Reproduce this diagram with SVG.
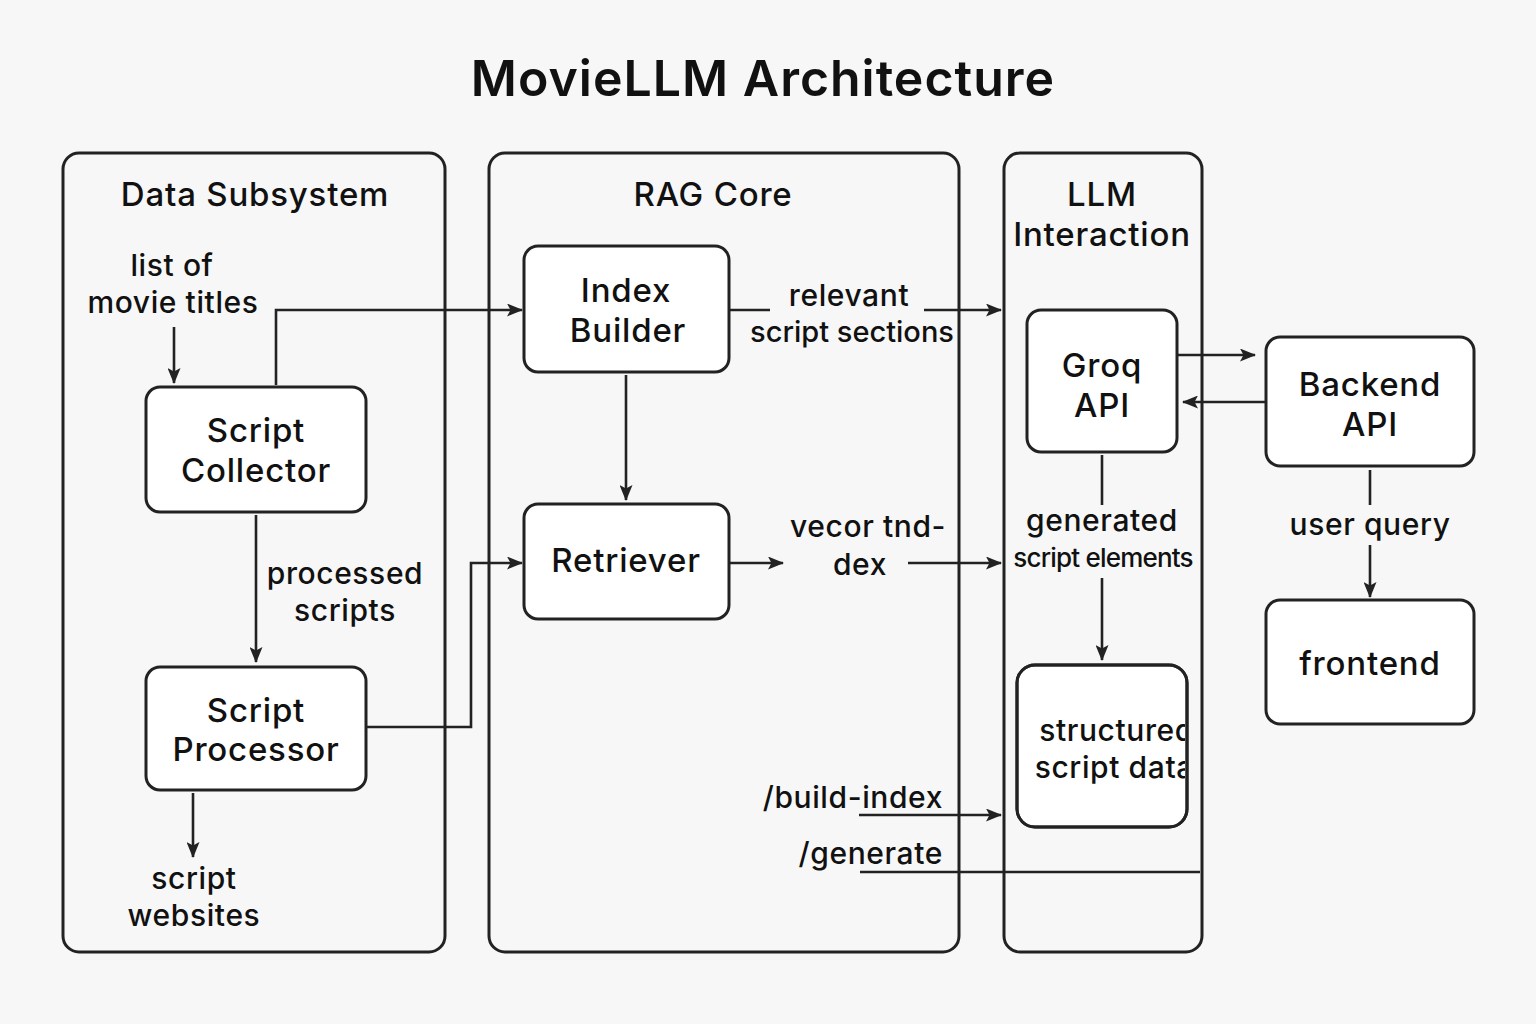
<svg xmlns="http://www.w3.org/2000/svg" width="1536" height="1024" viewBox="0 0 1536 1024">
<style>
.bg{fill:#f7f7f7}
.grp{fill:none;stroke:#222;stroke-width:3}
.node{fill:#fff;stroke:#222;stroke-width:3}
.ln{fill:none;stroke:#222;stroke-width:2.6}
text{font-family:Inter,"Open Sans","Noto Sans","Liberation Sans",sans-serif;fill:#111;text-anchor:middle}
.title{font-size:50px;font-weight:600;letter-spacing:1px}
.hdr{font-size:33px;font-weight:500;letter-spacing:0.8px}
.nt{font-size:33px;font-weight:500;letter-spacing:0.8px}
.lb{font-size:30px;font-weight:500;letter-spacing:0.6px}
.sm{font-size:26px;font-weight:500;letter-spacing:-0.8px}
</style>
<defs>
<marker id="ah" viewBox="0 0 16 13" refX="15" refY="6.5" markerWidth="16" markerHeight="13" markerUnits="userSpaceOnUse" orient="auto">
<path d="M0,0 L16,6.5 L0,13 L3.5,6.5 Z" fill="#222"/>
</marker>
<clipPath id="clipSD"><rect x="1017" y="665" width="168" height="162" rx="18"/></clipPath>
</defs>
<rect class="bg" x="0" y="0" width="1536" height="1024"/>
<text class="title" x="763" y="96">MovieLLM Architecture</text>

<g id="data-subsystem">
<rect class="grp" x="63" y="153" width="382" height="799" rx="16"/>
<text class="hdr" x="255" y="206">Data Subsystem</text>
</g>
<g id="rag-core">
<rect class="grp" x="489" y="153" width="470" height="799" rx="16"/>
<text class="hdr" x="713" y="206">RAG Core</text>
</g>
<g id="llm-interaction">
<rect class="grp" x="1004" y="153" width="198" height="799" rx="16"/>
<text class="hdr" x="1102" y="206">LLM</text>
<text class="hdr" x="1102" y="246">Interaction</text>
</g>

<g id="connectors">
<path class="ln" d="M174,327 V383" marker-end="url(#ah)"/>
<path class="ln" d="M276,385 V310 H522" marker-end="url(#ah)"/>
<path class="ln" d="M256,515 V662" marker-end="url(#ah)"/>
<path class="ln" d="M366,727 H471 V563 H522" marker-end="url(#ah)"/>
<path class="ln" d="M193,793 V857" marker-end="url(#ah)"/>
<path class="ln" d="M626,375 V500" marker-end="url(#ah)"/>
<path class="ln" d="M729,310 H770"/>
<path class="ln" d="M924,310 H1001" marker-end="url(#ah)"/>
<path class="ln" d="M729,563 H783" marker-end="url(#ah)"/>
<path class="ln" d="M908,563 H1001" marker-end="url(#ah)"/>
<path class="ln" d="M1102,455 V505"/>
<path class="ln" d="M1102,578 V660" marker-end="url(#ah)"/>
<path class="ln" d="M1178,355 H1255" marker-end="url(#ah)"/>
<path class="ln" d="M1265,402 H1183" marker-end="url(#ah)"/>
<path class="ln" d="M1370,470 V505"/>
<path class="ln" d="M1370,545 V597" marker-end="url(#ah)"/>
<path class="ln" d="M859,815 H1001" marker-end="url(#ah)"/>
<path class="ln" d="M860,872 H1200"/>
<text class="lb" x="172" y="276">list of</text>
<text class="lb" x="173" y="313">movie titles</text>
<text class="lb" x="345" y="584">processed</text>
<text class="lb" x="345" y="621">scripts</text>
<text class="lb" x="194" y="889">script</text>
<text class="lb" x="194" y="926">websites</text>
<text class="lb" x="849" y="306">relevant</text>
<text class="lb" x="852" y="342" style="font-size:29px;letter-spacing:0px">script sections</text>
<text class="lb" x="868" y="537">vecor tnd-</text>
<text class="lb" x="860" y="575">dex</text>
<text class="lb" x="1102" y="531">generated</text>
<text class="sm" x="1103" y="567">script elements</text>
<text class="lb" x="1370" y="535">user query</text>
<text class="lb" x="943" y="808" style="text-anchor:end">/build-index</text>
<text class="lb" x="943" y="864" style="text-anchor:end">/generate</text>
</g>

<g id="script-collector">
<rect class="node" x="146" y="387" width="220" height="125" rx="14"/>
<text class="nt" x="256" y="442">Script</text>
<text class="nt" x="256" y="482">Collector</text>
</g>
<g id="script-processor">
<rect class="node" x="146" y="667" width="220" height="123" rx="14"/>
<text class="nt" x="256" y="722">Script</text>
<text class="nt" x="256" y="761">Processor</text>
</g>
<g id="index-builder">
<rect class="node" x="524" y="246" width="205" height="126" rx="14"/>
<text class="nt" x="626" y="302">Index</text>
<text class="nt" x="628" y="342">Builder</text>
</g>
<g id="retriever">
<rect class="node" x="524" y="504" width="205" height="115" rx="14"/>
<text class="nt" x="626" y="572">Retriever</text>
</g>
<g id="groq-api">
<rect class="node" x="1027" y="310" width="150" height="142" rx="14"/>
<text class="nt" x="1102" y="377">Groq</text>
<text class="nt" x="1102" y="417">API</text>
</g>
<g id="structured-script-data">
<rect class="node" x="1017" y="665" width="170" height="162" rx="18"/>
<g clip-path="url(#clipSD)">
<text class="lb" x="1194" y="741" style="text-anchor:end">structured</text>
<text class="lb" x="1194" y="778" style="text-anchor:end">script data</text>
</g>
<rect x="1017" y="665" width="170" height="162" rx="18" fill="none" stroke="#222" stroke-width="3"/>
</g>
<g id="backend-api">
<rect class="node" x="1266" y="337" width="208" height="129" rx="14"/>
<text class="nt" x="1370" y="396">Backend</text>
<text class="nt" x="1370" y="436">API</text>
</g>
<g id="frontend">
<rect class="node" x="1266" y="600" width="208" height="124" rx="14"/>
<text class="nt" x="1370" y="675">frontend</text>
</g>
</svg>
